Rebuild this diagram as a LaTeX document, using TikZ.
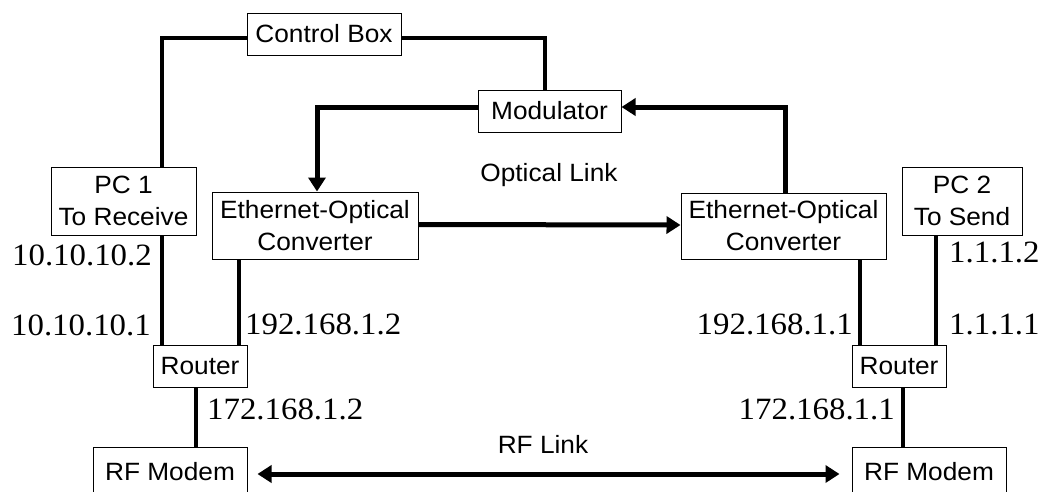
\documentclass[tikz,border=0pt]{standalone}
\usepackage{fontspec}
\setmainfont{Liberation Sans}[FakeStretch=1.05]
\newfontfamily\tnr{Liberation Serif}[FakeStretch=1.06]
\usetikzlibrary{arrows.meta}
\begin{document}
\begin{tikzpicture}[x=1pt,y=-1pt,
  blk/.style={draw,line width=1pt,inner sep=0pt,align=center,font=\fontsize{25}{32}\selectfont},
  wire/.style={line width=4pt},
  arr/.style={line width=5pt,-{Triangle[length=14pt,width=17pt]}},
  ip/.style={inner sep=0pt,font=\tnr\fontsize{31}{31}\selectfont},
  lbl/.style={inner sep=0pt,font=\fontsize{25}{32}\selectfont}]
\useasboundingbox (0,0) rectangle (1044,491);
\fill[white] (0,0) rectangle (1044,491);
\clip (0,0) rectangle (1044,491);
% boxes
\node[blk,minimum width=154pt,minimum height=42pt] (cb) at (324,34) {Control Box};
\node[blk,minimum width=143pt,minimum height=42pt] (mod) at (549.5,111) {Modulator};
\node[blk,minimum width=145pt,minimum height=68pt] (pc1) at (123.5,201) {PC 1\\To Receive};
\node[blk,minimum width=206pt,minimum height=67pt] (eth1) at (315,225.5) {Ethernet-Optical\\Converter};
\node[blk,minimum width=205pt,minimum height=66pt] (eth2) at (783.5,226) {Ethernet-Optical\\Converter};
\node[blk,minimum width=120pt,minimum height=68pt] (pc2) at (962,201) {PC 2\\To Send};
\node[blk,minimum width=94pt,minimum height=42pt] (r1) at (200,366) {Router};
\node[blk,minimum width=94pt,minimum height=42pt] (r2) at (899,366) {Router};
\node[blk,minimum width=154pt,minimum height=50pt] (rf1) at (170,472) {RF Modem};
\node[blk,minimum width=154pt,minimum height=50pt] (rf2) at (929,472) {RF Modem};
% column coordinates
\coordinate (xa) at (162,0);
\coordinate (xb) at (239,0);
\coordinate (xc) at (196,0);
\coordinate (xd) at (860,0);
\coordinate (xe) at (936,0);
\coordinate (xf) at (903,0);
\coordinate (xg) at (545,0);
\coordinate (xh) at (317,0);
\coordinate (xi) at (785,0);
% connectors
\draw[wire] ([yshift=-4pt]cb.west) -| (pc1.north -| xa);
\draw[wire] (pc1.south -| xa) -- (r1.north -| xa);
\draw[wire] ([yshift=-4pt]cb.east) -| (mod.north -| xg);
\draw[arr] ([yshift=4pt]mod.west) -| (eth1.north -| xh);
\draw[arr] (eth2.north -| xi) |- ([yshift=4pt]mod.east);
\draw[arr] ([yshift=1pt]eth1.east) -- ([yshift=1pt]eth2.west);
\draw[wire] (eth1.south -| xb) -- (r1.north -| xb);
\draw[wire] (eth2.south -| xd) -- (r2.north -| xd);
\draw[wire] (pc2.south -| xe) -- (r2.north -| xe);
\draw[wire] (r1.south -| xc) -- (rf1.north -| xc);
\draw[wire] (r2.south -| xf) -- (rf2.north -| xf);
\draw[line width=5pt,{Triangle[length=14pt,width=17pt]}-{Triangle[length=14pt,width=17pt]},shorten <=10pt,shorten >=12pt] ([yshift=-2pt]rf1.east) -- ([yshift=-2pt]rf2.west);
% labels
\node[lbl,anchor=base] (ol) at (549,181) {Optical Link};
\node[lbl,anchor=base] (rl) at (543,453) {RF Link};
\node[ip,anchor=base east] (a1) at (152,265) {10.10.10.2};
\node[ip,anchor=base east] (a2) at (151,335) {10.10.10.1};
\node[ip,anchor=base west] (a3) at (245,334) {192.168.1.2};
\node[ip,anchor=base west] (a4) at (207,419) {172.168.1.2};
\node[ip,anchor=base east] (a5) at (853,334) {192.168.1.1};
\node[ip,anchor=base east] (a6) at (895,419) {172.168.1.1};
\node[ip,anchor=base west] (a7) at (949,262) {1.1.1.2};
\node[ip,anchor=base west] (a8) at (949,334) {1.1.1.1};
\end{tikzpicture}
\end{document}
